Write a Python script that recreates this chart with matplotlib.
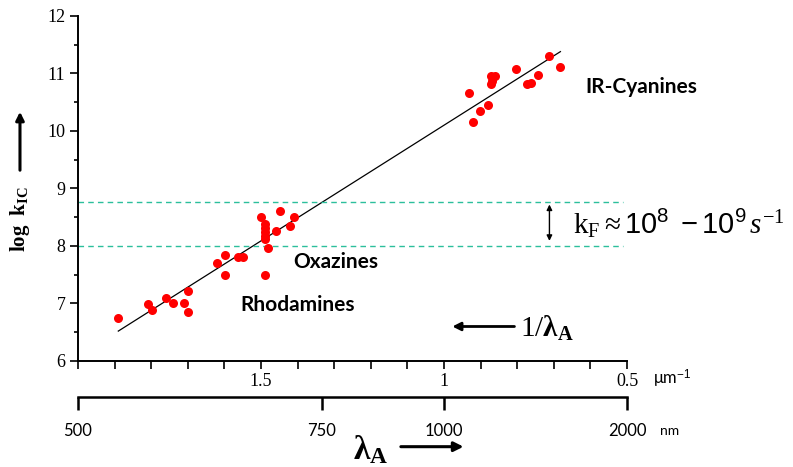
import matplotlib
matplotlib.use("Agg")
import matplotlib.pyplot as plt
from matplotlib.ticker import FixedLocator, MultipleLocator, FuncFormatter

plt.rcParams['font.family'] = ['Liberation Serif', 'DejaVu Sans']
plt.rcParams['mathtext.fontset'] = 'custom'
plt.rcParams['mathtext.rm'] = 'Liberation Serif'
plt.rcParams['mathtext.it'] = 'Liberation Serif:italic'
plt.rcParams['mathtext.bf'] = 'Liberation Serif:bold'
plt.rcParams['mathtext.sf'] = 'Liberation Sans'

# 数据：1/λ (µm^-1) 与 log k_IC
rhod_x = [1.890, 1.810, 1.799, 1.761, 1.740, 1.711, 1.699, 1.699, 1.620, 1.599, 1.599, 1.563, 1.549]
rhod_y = [6.75, 6.99, 6.88, 7.10, 7.00, 7.00, 7.22, 6.85, 7.70, 7.85, 7.50, 7.80, 7.80]
oxa_x = [1.499, 1.490, 1.490, 1.490, 1.490, 1.490, 1.490, 1.480, 1.460, 1.449, 1.420, 1.410]
oxa_y = [8.51, 8.38, 8.31, 8.24, 8.18, 8.12, 7.50, 7.97, 8.26, 8.61, 8.35, 8.51]
cya_x = [0.931, 0.922, 0.901, 0.881, 0.872, 0.870, 0.872, 0.861, 0.802, 0.772, 0.762, 0.742, 0.713, 0.682]
cya_y = [10.66, 10.16, 10.35, 10.45, 10.81, 10.87, 10.96, 10.96, 11.08, 10.81, 10.83, 10.97, 11.31, 11.11]
fit_x = [1.89, 0.682]
fit_y = [6.52, 11.38]
kf_band = [8.0, 8.77]
nm_ticks = [500, 750, 1000, 2000]

fig = plt.figure(figsize=(7.93, 4.67), dpi=100)
ax = fig.add_axes([0.0984, 0.227, 0.6923, 0.7388])

ax.plot(fit_x, fit_y, color='black', lw=0.9, zorder=2)
ax.plot(rhod_x + oxa_x + cya_x, rhod_y + oxa_y + cya_y, 'o', color='#ff0000',
        ms=6.5, mec='none', zorder=3)
ax.hlines(kf_band, 2.0, 0.51, colors='#2cbf9c', linestyles=(0, (4, 3)), lw=1)

ax.set_xlim(2.0, 0.5)
ax.set_ylim(6, 12)
for s in ['top', 'right']:
    ax.spines[s].set_visible(False)
for s in ['left', 'bottom']:
    ax.spines[s].set_linewidth(1.4)

ax.yaxis.set_major_locator(MultipleLocator(1))
ax.yaxis.set_minor_locator(MultipleLocator(0.5))
ax.xaxis.set_major_locator(MultipleLocator(0.1))
ax.xaxis.set_major_formatter(FuncFormatter(
    lambda v, p: ('%g' % round(v, 2)) if abs(v * 2 - round(v * 2)) < 1e-6 and v < 1.9 else ''))
ax.tick_params(axis='y', which='major', length=6, width=1.2, labelsize=13, pad=3)
ax.tick_params(axis='y', which='minor', length=3, width=1.2)
ax.tick_params(axis='x', length=6, width=1.2, labelsize=13, pad=3)

# 第二横轴：波长 nm
sec = ax.secondary_xaxis(-0.104, functions=(lambda x: 1000 / x, lambda x: 1000 / x))
sec.xaxis.set_major_locator(FixedLocator(nm_ticks))
sec.xaxis.set_minor_locator(FixedLocator([]))
sec.xaxis.set_major_formatter(FuncFormatter(lambda v, p: '%d' % v))
sec.spines['bottom'].set_linewidth(1.8)
sec.tick_params(axis='x', length=9, width=1.8, labelsize=12, pad=10)
for t in sec.get_xticklabels():
    t.set_fontfamily('Lato')

# 文字标注
ax.text(0.615, 10.77, 'IR-Cyanines', fontsize=15, fontweight='bold', family='Lato',
        ha='left', va='center')
ax.text(1.296, 7.73, 'Oxazines', fontsize=15, fontweight='bold', family='Lato',
        ha='center', va='center')
ax.text(1.401, 6.97, 'Rhodamines', fontsize=15, fontweight='bold', family='Lato',
        ha='center', va='center')
ax.annotate('', xy=(0.712, 8.04), xytext=(0.712, 8.77),
            arrowprops=dict(arrowstyle='<|-|>', color='black', lw=1, mutation_scale=8))
ax.text(0.647, 8.40, r'$\mathrm{k_F}\approx\mathsf{10^8\ -10^9}\,s^{-1}$',
        fontsize=21, ha='left', va='center', clip_on=False)
ax.annotate('', xy=(0.985, 6.60), xytext=(0.80, 6.60),
            arrowprops=dict(arrowstyle='-|>', color='black', lw=2, mutation_scale=12))
ax.text(0.792, 6.56, r'$1/\mathbf{\lambda_A}$', fontsize=21, ha='left', va='center')

fig.text(0.025, 0.531, r'$\mathbf{log\ \ k_{IC}}$', fontsize=15, rotation=90,
         ha='center', va='center')
fig.add_artist(matplotlib.patches.FancyArrowPatch(
    (0.0252, 0.6296), (0.0252, 0.7666), arrowstyle='-|>', mutation_scale=12, lw=2.2,
    color='black', transform=fig.transFigure))
fig.text(0.467, 0.036, r'$\mathbf{\lambda_A}$', fontsize=24, ha='center', va='center')
fig.add_artist(matplotlib.patches.FancyArrowPatch(
    (0.502, 0.0435), (0.588, 0.0435), arrowstyle='-|>', mutation_scale=14, lw=2.2,
    color='black', transform=fig.transFigure))
fig.text(0.823, 0.188, 'μm$^{\\mathsf{-1}}$', fontsize=12, family='Lato',
         ha='left', va='center')
fig.text(0.832, 0.078, 'nm', fontsize=10, family='Lato', ha='left', va='center')

fig.savefig('out.png', dpi=100)
